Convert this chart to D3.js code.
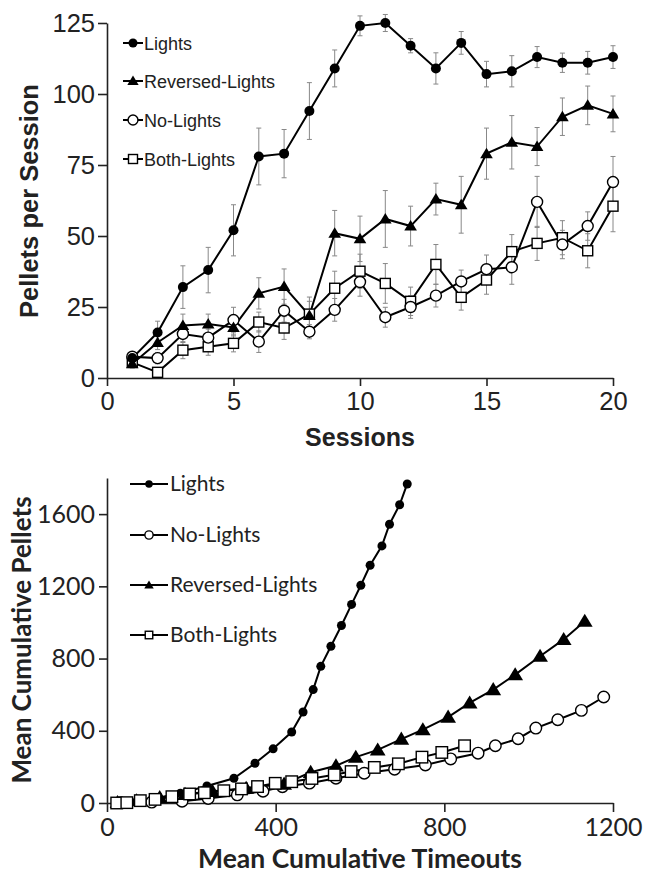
<!DOCTYPE html>
<html><head><meta charset="utf-8">
<script src="https://cdn.jsdelivr.net/npm/d3@7"></script>
<style>body{margin:0;background:#fff}svg{display:block}</style>
</head><body>
<svg id="c" width="648" height="876"></svg>
<script>
// ---- Top panel data (Pellets per Session) ----
const sessions = [1,2,3,4,5,6,7,8,9,10,11,12,13,14,15,16,17,18,19,20];
const lightsMean = [7,16,32,38,52,78,79,94,109,124,125,117,109,118,107,108,113,111,111,113];
const lightsErr  = [1.5,4,7.5,8,9,10,8.5,10,6.5,3.5,3,2.5,5.5,4,4.5,5.5,3.7,3.4,4,4];
const revMean    = [5,12.5,18.5,19,17.8,29.8,32.2,22,51,49,56,53.5,63,61,79,83,81.5,92,96,93];
const revErr     = [1.5,2.5,4,3.5,3,5.5,6.2,5,8,8,10,7,5.6,10,9,9.4,6.7,6.6,6.8,6.3];
const noMean     = [7.5,7,15.5,14.2,20.4,12.8,23.7,16.3,24,33.8,21.4,25,29,34,38.3,39,62,47,53.5,69];
const noErr      = [1.5,2,3,3,4.5,3.8,4,2.5,4,5,3.5,4,4,4,5,6,9,5,5,9];
const bothMean   = [5.5,2,9.8,11,12.2,19.7,17.6,22.5,31.6,37.6,33.3,27,40,28.4,34.5,44.5,47.4,49.4,44.8,60.5];
const bothErr    = [1.5,1.5,3,3,3,3.5,4,6,6,6,7,5,7,4.5,5,6,6,6,6,9];
const topYTicks = [0,25,50,75,100,125];
const topXTicks = [0,5,10,15,20];

// ---- Bottom panel data (cumulative) ----
const cLightsX = [50,110,174,237,301,351,394,438,465,489,507,531,556,580,602,624,652,670,694,712];
const cLightsY = [7,23,54,94,137,220,300,393,504,628,757,868,983,1100,1206,1317,1424,1544,1652,1767];
const cNoX = [30,106,178,240,309,370,416,480,543,610,682,755,815,880,921,975,1017,1069,1125,1178];
const cNoY = [2,5,10,25,45,65,90,110,137,165,187,211,244,276,317,356,415,461,513,587];
const cRevX = [25,70,125,185,250,330,420,483,543,590,642,698,749,809,860,916,968,1027,1083,1133];
const cRevY = [3,13,30,48,65,82,105,170,206,254,294,354,406,476,554,628,711,813,906,1007];
const cBothX = [23,47,79,114,154,196,231,277,319,357,399,438,486,539,579,634,691,747,794,848];
const cBothY = [0,2,13,20,35,50,57,68,78,91,109,118,136,156,174,197,217,254,280,317];
const botYTicks = [0,400,800,1200,1600];
const botXTicks = [0,400,800,1200];

const svg = d3.select('#c');

// ================= TOP PANEL =================
const tx = d3.scaleLinear().domain([0,20]).range([107,613]);
const ty = d3.scaleLinear().domain([0,125]).range([378,23]);
const TF = '"Liberation Sans", Arial, Helvetica, sans-serif';
const gTop = svg.append('g');

const yAx = gTop.append('g').attr('transform','translate(107,0)')
  .call(d3.axisLeft(ty).tickValues(topYTicks).tickSize(9).tickPadding(3).tickSizeOuter(0));
const xAx = gTop.append('g').attr('transform','translate(0,378)')
  .call(d3.axisBottom(tx).tickValues(topXTicks).tickSize(8).tickPadding(6).tickSizeOuter(0));
[yAx,xAx].forEach(a=>{
  a.attr('font-family',TF);
  a.selectAll('path,line').attr('stroke','#222').attr('stroke-width',1.6);
  a.selectAll('text').attr('font-family',TF).attr('font-size',25.5).attr('fill','#222');
});

gTop.append('text').attr('x',360).attr('y',446).attr('text-anchor','middle')
  .attr('font-family',TF).attr('font-weight','bold').attr('font-size',25).attr('fill','#222').text('Sessions');
gTop.append('text').attr('transform','translate(38,201) rotate(-90)').attr('text-anchor','middle')
  .attr('font-family',TF).attr('font-weight','bold').attr('font-size',25.5).attr('fill','#222').text('Pellets per Session');

const topSeries = [
  {name:'Lights', m:lightsMean, e:lightsErr, mk:'fcircle'},
  {name:'Reversed-Lights', m:revMean, e:revErr, mk:'tri'},
  {name:'No-Lights', m:noMean, e:noErr, mk:'ocircle'},
  {name:'Both-Lights', m:bothMean, e:bothErr, mk:'square'}
];

function marker(g, type, x, y, s){
  if(type==='fcircle'){
    g.append('circle').attr('cx',x).attr('cy',y).attr('r',5*s).attr('fill','#000');
  } else if(type==='ocircle'){
    g.append('circle').attr('cx',x).attr('cy',y).attr('r',5.5*s).attr('fill','#fff').attr('stroke','#000').attr('stroke-width',1.4);
  } else if(type==='tri'){
    const h=6*s;
    g.append('path').attr('d',`M${x},${y-h}L${x+h*1.05},${y+h*0.75}L${x-h*1.05},${y+h*0.75}Z`).attr('fill','#000');
  } else if(type==='square'){
    const h=5*s;
    g.append('rect').attr('x',x-h).attr('y',y-h).attr('width',2*h).attr('height',2*h).attr('fill','#fff').attr('stroke','#000').attr('stroke-width',1.4);
  }
}

const errG = gTop.append('g');
topSeries.forEach(s=>{
  sessions.forEach((d,i)=>{
    const x=tx(d), y1=ty(s.m[i]+s.e[i]), y2=ty(s.m[i]-s.e[i]);
    errG.append('line').attr('x1',x).attr('x2',x).attr('y1',y1).attr('y2',y2).attr('stroke','#888').attr('stroke-width',1);
    [y1,y2].forEach(yy=>errG.append('line').attr('x1',x-2.5).attr('x2',x+2.5).attr('y1',yy).attr('y2',yy).attr('stroke','#888').attr('stroke-width',1));
  });
});
const topLine = d3.line();
topSeries.forEach(s=>{
  gTop.append('path').attr('d',topLine(sessions.map((d,i)=>[tx(d),ty(s.m[i])])))
    .attr('fill','none').attr('stroke','#000').attr('stroke-width',2);
});
[...topSeries].reverse().forEach(s=>{
  const g=gTop.append('g');
  sessions.forEach((d,i)=>marker(g,s.mk,tx(d),ty(s.m[i]),1));
});
const tLegY=[43,81,120,159];
topSeries.forEach((s,i)=>{
  const g=gTop.append('g');
  g.append('line').attr('x1',123).attr('x2',143).attr('y1',tLegY[i]).attr('y2',tLegY[i]).attr('stroke','#000').attr('stroke-width',2);
  marker(g,s.mk,133,tLegY[i],0.9);
  g.append('text').attr('x',144).attr('y',tLegY[i]+6.5).attr('font-family',TF).attr('font-size',18).attr('fill','#222').text(s.name);
});

// ================= BOTTOM PANEL =================
const bx = d3.scaleLinear().domain([0,1200]).range([107,613]);
const by = d3.scaleLinear().domain([0,1800]).range([803,478]);
const BF = 'Lato, Carlito, Calibri, sans-serif';
const gBot = svg.append('g');
const byAx = gBot.append('g').attr('transform','translate(107,0)')
  .call(d3.axisLeft(by).tickValues(botYTicks).tickFormat(d3.format('d')).tickSize(8).tickPadding(4).tickSizeOuter(0));
const bxAx = gBot.append('g').attr('transform','translate(0,803)')
  .call(d3.axisBottom(bx).tickValues(botXTicks).tickFormat(d3.format('d')).tickSize(9).tickPadding(6).tickSizeOuter(0));
[byAx,bxAx].forEach(a=>{
  a.attr('font-family',BF);
  a.selectAll('path,line').attr('stroke','#222').attr('stroke-width',1.6);
  a.selectAll('text').attr('font-family',BF).attr('font-size',25).attr('fill','#222');
});
gBot.append('text').attr('x',360).attr('y',868).attr('text-anchor','middle')
  .attr('font-family',BF).attr('font-weight','bold').attr('font-size',26.5).attr('fill','#222').text('Mean Cumulative Timeouts');
gBot.append('text').attr('transform','translate(31,640) rotate(-90)').attr('text-anchor','middle')
  .attr('font-family',BF).attr('font-weight','bold').attr('font-size',26).attr('fill','#222').text('Mean Cumulative Pellets');

const botSeries = [
  {name:'Lights', x:cLightsX, y:cLightsY, mk:'fcircle', s:0.9},
  {name:'No-Lights', x:cNoX, y:cNoY, mk:'ocircle', s:1.05},
  {name:'Reversed-Lights', x:cRevX, y:cRevY, mk:'tri', s:1.25},
  {name:'Both-Lights', x:cBothX, y:cBothY, mk:'square', s:1.15}
];
botSeries.forEach(s=>{
  gBot.append('path').attr('d',d3.line()(s.x.map((v,i)=>[bx(v),by(s.y[i])])))
    .attr('fill','none').attr('stroke','#000').attr('stroke-width',2);
});
botSeries.forEach(s=>{
  const g=gBot.append('g');
  s.x.forEach((v,i)=>marker(g,s.mk,bx(v),by(s.y[i]),s.s));
});
const bLegY=[484,535,585,635];
botSeries.forEach((s,i)=>{
  const g=gBot.append('g');
  g.append('line').attr('x1',130).attr('x2',168).attr('y1',bLegY[i]).attr('y2',bLegY[i]).attr('stroke','#000').attr('stroke-width',2);
  marker(g,s.mk,149,bLegY[i],0.75);
  g.append('text').attr('x',170).attr('y',bLegY[i]+7).attr('font-family',BF).attr('font-size',21).attr('fill','#222').text(s.name);
});
</script>
</body></html>
